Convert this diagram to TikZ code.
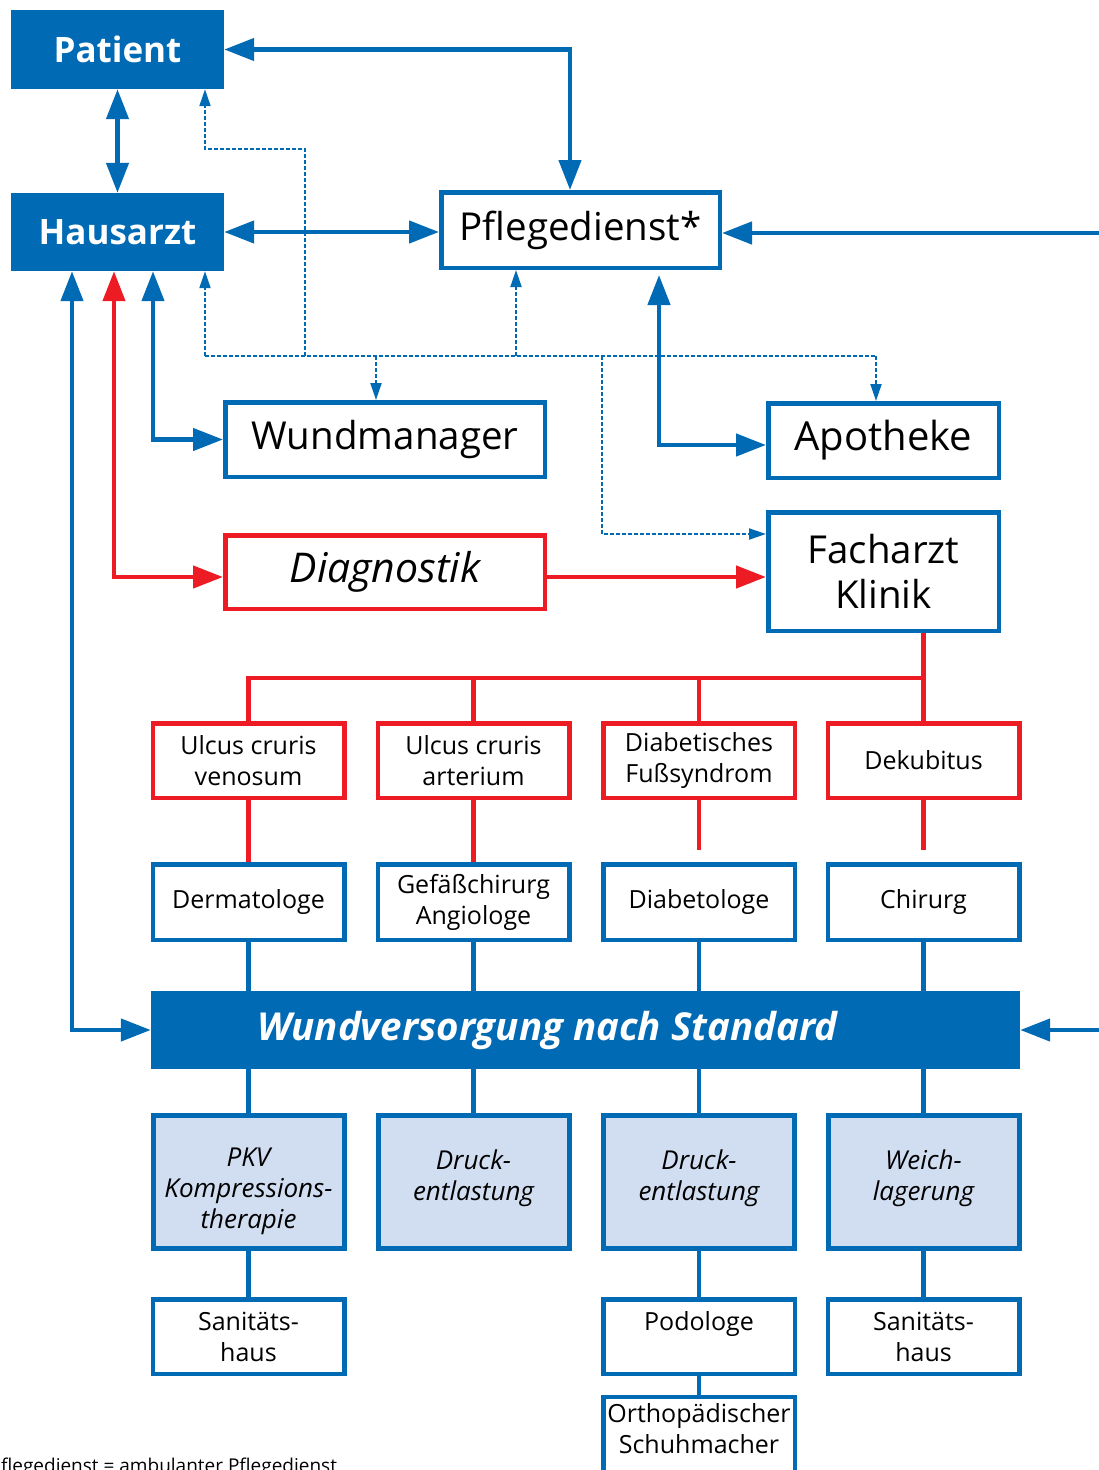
\documentclass[tikz,border=0pt]{standalone}
\usepackage{fontspec}
\setmainfont{Open Sans}
\usetikzlibrary{arrows.meta,calc}
\definecolor{myblue}{RGB}{0,106,180}
\definecolor{myred}{RGB}{237,28,36}
\definecolor{lightblue}{RGB}{209,221,240}
\tikzset{
 bigfont/.style={font=\fontsize{38.5}{45}\selectfont},
 smallfont/.style={font=\fontsize{25}{31}\selectfont},
 filledbox/.style={fill=myblue, text=white, inner sep=0pt, font=\fontsize{35}{42}\selectfont\bfseries},
 bluebox/.style={draw=myblue, line width=4.5pt, fill=white, inner sep=0pt, align=center, text=black},
 redbox/.style={draw=myred, line width=4.5pt, fill=white, inner sep=0pt, align=center, text=black},
 lightbox/.style={draw=myblue, line width=5pt, fill=lightblue, inner sep=0pt, minimum width=191pt, minimum height=133pt},
 lighttext/.style={inner sep=0pt, align=center, font=\fontsize{26}{31}\selectfont\itshape},
 conn/.style={myblue, line width=4.5pt},
 rconn/.style={myred, line width=4.5pt},
 arr/.style={-{Triangle[length=30pt,width=22pt]}},
 darr/.style={{Triangle[length=30pt,width=22pt]}-{Triangle[length=30pt,width=22pt]}},
 dotconn/.style={myblue, line width=2pt, dash pattern=on 4pt off 2pt},
 dotarr/.style={-{Triangle[length=17pt,width=11pt]}},
}
\begin{document}
\begin{tikzpicture}[x=1pt,y=-1pt]
\useasboundingbox (0,0) rectangle (1099,1470);
\clip (0,0) rectangle (1099,1470);
% top nodes
\node[filledbox, minimum width=213pt, minimum height=79pt] (Patient) at (117.5,49.5) {Patient};
\node[filledbox, minimum width=213pt, minimum height=78pt] (Hausarzt) at (117.5,232) {Hausarzt};
\node[bluebox, bigfont, minimum width=278.5pt, minimum height=75.5pt] (Pflege) at (580.5,230) {Pflegedienst*};
\node[bluebox, bigfont, minimum width=319.5pt, minimum height=74.5pt] (Wundmanager) at (385,439.5) {Wundmanager};
\node[bluebox, font=\fontsize{40}{45}\selectfont, minimum width=230.5pt, minimum height=74.5pt] (Apotheke) at (883.5,440.5) {Apotheke};
\node[redbox, font=\fontsize{41}{45}\selectfont\itshape, minimum width=319.5pt, minimum height=73.5pt] (Diagnostik) at (385,572) {Diagnostik};
\node[bluebox, bigfont, minimum width=230.5pt, minimum height=118.5pt] (Facharzt) at (883.5,571.5) {Facharzt\\Klinik};
% red boxes
\node[redbox, smallfont, minimum width=191.5pt, minimum height=74.5pt] (U1) at (248.5,760.5) {Ulcus cruris\\venosum};
\node[redbox, smallfont, minimum width=191.5pt, minimum height=74.5pt] (U2) at (473.5,760.5) {Ulcus cruris\\arterium};
\node[redbox, smallfont, minimum width=191.5pt, minimum height=74.5pt] (U3) at (699,760.5) {Diabetisches\\Fußsyndrom};
\node[redbox, smallfont, minimum width=191.5pt, minimum height=74.5pt] (U4) at (923.5,760.5) {Dekubitus};
% specialists
\node[bluebox, smallfont, minimum width=191.5pt, minimum height=75.5pt] (D1) at (248.5,902) {Dermatologe};
\node[bluebox, smallfont, minimum width=191.5pt, minimum height=75.5pt] (D2) at (473.5,902) {Gefäßchirurg\\Angiologe};
\node[bluebox, smallfont, minimum width=191.5pt, minimum height=75.5pt] (D3) at (699,902) {Diabetologe};
\node[bluebox, smallfont, minimum width=191.5pt, minimum height=75.5pt] (D4) at (923.5,902) {Chirurg};
% Wundversorgung
\node[fill=myblue, text=white, inner sep=0pt, minimum width=869pt, minimum height=78pt, font=\fontsize{38.5}{45}\selectfont\bfseries\itshape] (Wundv) at (585.5,1030) {\raisebox{-3pt}{Wundversorgung nach Standard}\hspace*{76pt}};
% light boxes
\node[lightbox] (L1) at (248.5,1182) {};
\node[lightbox] (L2) at (473.5,1182) {};
\node[lightbox] (L3) at (699,1182) {};
\node[lightbox] (L4) at (923.5,1182) {};
\node[lighttext] (L1t) at ([yshift=-9pt]L1.center) {PKV\\Kompressions-\\therapie};
\node[lighttext] (L2t) at ([yshift=-9pt]L2.center) {Druck-\\entlastung\\~};
\node[lighttext] (L3t) at ([yshift=-9pt]L3.center) {Druck-\\entlastung\\~};
\node[lighttext] (L4t) at ([yshift=-9pt]L4.center) {Weich-\\lagerung\\~};
% bottom
\node[bluebox, smallfont, minimum width=191.5pt, minimum height=74.5pt] (S1) at (248.5,1336.5) {Sanitäts-\\haus};
\node[bluebox, smallfont, minimum width=191.5pt, minimum height=74.5pt] (P3) at (699,1336.5) {Podologe\\~};
\node[bluebox, smallfont, minimum width=191.5pt, minimum height=74.5pt] (S4) at (923.5,1336.5) {Sanitäts-\\haus};
\node[bluebox, minimum width=191.5pt, minimum height=82pt] (O3) at (699,1438) {};
\node[smallfont, align=center, anchor=north, inner sep=0pt] (O3t) at ([yshift=-9pt]O3.north) {Orthopädischer\\Schuhmacher};
% footnote (cut by the picture's edges, as in the reference)
\node[anchor=base west, font=\fontsize{19}{22}\selectfont, inner sep=0pt] (foot) at (-21,1472) {*Pflegedienst = ambulanter Pflegedienst};

% coordinates
\coordinate (dL) at (205,356);
\coordinate (dR) at (876,356);
\coordinate (dP) at (305,356);
\coordinate (dPb) at (305,149);
\coordinate (dF) at (602,356);
\coordinate (wmIn) at ([xshift=-9pt]Wundmanager.north);
\coordinate (pfIn) at ([xshift=-64.5pt]Pflege.south);
\coordinate (apIn) at ([xshift=-7.5pt]Apotheke.north);
\coordinate (faIn) at ([yshift=37.5pt]Facharzt.west);
\coordinate (pfTop) at ([xshift=-10.5pt]Pflege.north);
\coordinate (edgeA) at (1099,233);
\coordinate (edgeB) at (1099,1030);
\coordinate (haA) at ([xshift=35.5pt]Hausarzt.south);
\coordinate (haR) at ([xshift=-3.5pt]Hausarzt.south);
\coordinate (haW) at ([xshift=-45.5pt]Hausarzt.south);
\coordinate (pfB) at ([xshift=78.5pt,yshift=-5pt]Pflege.south);
\coordinate (apW) at ([yshift=-4.5pt]Apotheke.west);
\coordinate (diW) at ([yshift=-5pt]Diagnostik.west);
\coordinate (diE) at ([yshift=-5pt]Diagnostik.east);
\coordinate (rbus) at (0,678);

% dotted
\draw[dotconn] (dL) -- (dR);
\draw[dotconn,dotarr] (dP) -- (dPb) -| (Patient.south -| dL);
\draw[dotconn,dotarr] (dL) -- (Hausarzt.south -| dL);
\draw[dotconn,dotarr] (wmIn |- dL) -- (wmIn);
\draw[dotconn,dotarr] (pfIn |- dL) -- (pfIn);
\draw[dotconn,dotarr] (dR) -- (apIn);
\draw[dotconn,dotarr] (dF) |- (faIn);

% solid blue
\draw[conn,darr] (Patient.east) -| (pfTop);
\draw[conn,darr] (Patient.south) -- (Hausarzt.north);
\draw[conn,darr] (Hausarzt.east) -- (Hausarzt.east -| Pflege.west);
\draw[conn,arr] (edgeA) -- (edgeA -| Pflege.east);
\draw[conn,darr] (haA) |- (Wundmanager.west);
\draw[conn,darr] (haW) |- (Wundv.west);
\draw[conn,darr] (pfB) |- (apW);
\draw[conn,arr] (edgeB) -- (Wundv.east);
% red
\draw[rconn,darr] (haR) |- (diW);
\draw[rconn,arr] (diE) -- (diE -| Facharzt.west);
\draw[rconn] (U4.north |- Facharzt.south) -- (U4.north);
\draw[rconn] (U1.north) |- (U4.north |- rbus);
\draw[rconn] (U2.north) -- (U2.north |- rbus);
\draw[rconn] (U3.north) -- (U3.north |- rbus);
\draw[rconn] (U1.south) -- (D1.north);
\draw[rconn] (U2.south) -- (D2.north);
\draw[rconn] (U3.south) -- ([yshift=12pt]D3.north);
\draw[rconn] (U4.south) -- ([yshift=12pt]D4.north);
% specialists to Wundversorgung
\foreach \n in {D1,D2,D3,D4} \draw[conn] (\n.south) -- (\n.south |- Wundv.north);
\foreach \n in {L1,L2,L3,L4} \draw[conn] (\n.north |- Wundv.south) -- (\n.north);
\draw[conn] (L1.south) -- (S1.north);
\draw[conn] (L3.south) -- (P3.north);
\draw[conn] (L4.south) -- (S4.north);
\draw[conn] (P3.south) -- (O3.north);
\end{tikzpicture}
\end{document}
